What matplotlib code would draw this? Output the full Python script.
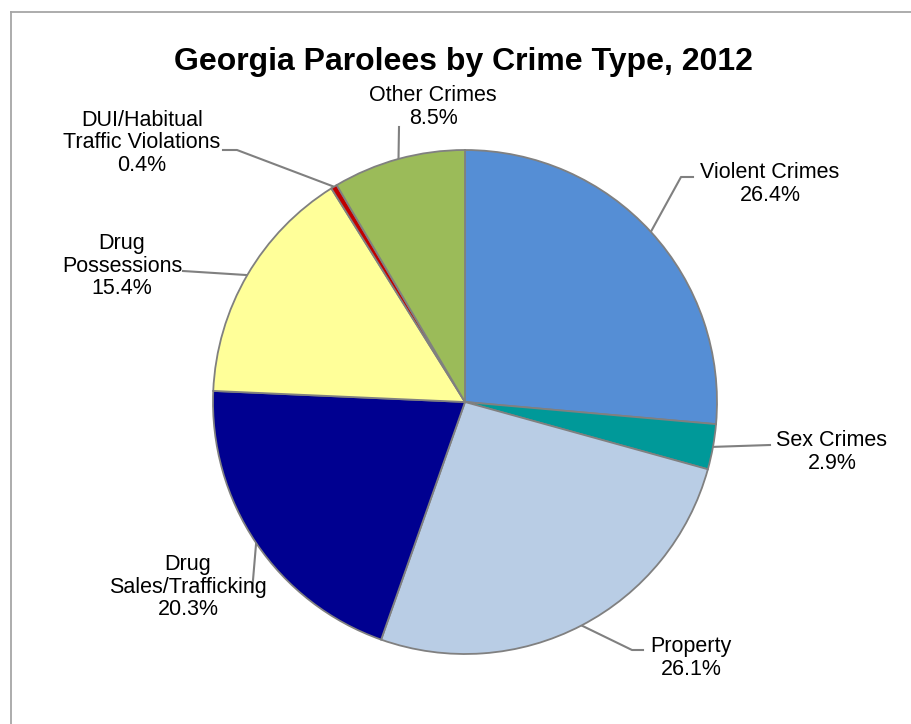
import numpy as np
import matplotlib.pyplot as plt
from matplotlib.lines import Line2D

plt.rcParams['font.family'] = ['Liberation Sans', 'DejaVu Sans']

# data
crimes = ['Violent Crimes', 'Sex Crimes', 'Property', 'Drug\nSales/Trafficking',
          'Drug\nPossessions', 'DUI/Habitual\nTraffic Violations', 'Other Crimes']
shares = [26.4, 2.9, 26.1, 20.3, 15.4, 0.4, 8.5]
colors = ['#558ED5', '#009999', '#B9CDE5', '#000090', '#FFFF99', '#C00000', '#9BBB59']

W, H = 911, 724
fig = plt.figure(figsize=(W / 100, H / 100), dpi=100)
ax = fig.add_axes([0, 0, 1, 1])
ax.set_aspect('equal')

def py(y):
    # pixel row -> data y
    return H - y

cx, cy, r = 465, 402, 252
wedges, _ = ax.pie(shares, colors=colors, startangle=90, counterclock=False,
                   center=(cx, py(cy)), radius=r, frame=True,
                   wedgeprops=dict(edgecolor='#808080', linewidth=1.3))
ax.set_xlim(0, W)
ax.set_ylim(0, H)
ax.axis('off')

# label block centres and leader elbows (pixel coords)
label_pos = [(770, 184), (832, 452), (691, 658), (188, 587), (122, 266), (142, 143), (433, 107)]
leader_start = [(693, 177), (770, 445), (643, 650), (252, 592), (183, 271), (223, 150), (399, 127)]
leader_elbow = [(681, 177), None, (632, 650), None, None, (237, 150), None]

for w, name, val, (lx, ly), st, el in zip(wedges, crimes, shares, label_pos, leader_start, leader_elbow):
    mid = np.deg2rad((w.theta1 + w.theta2) / 2)
    ex, ey = cx + r * np.cos(mid), py(cy) + r * np.sin(mid)
    pts = [st] + ([el] if el else [])
    xs = [p[0] for p in pts] + [ex]
    ys = [py(p[1]) for p in pts] + [ey]
    ax.plot(xs, ys, color='#808080', lw=1.5, zorder=0.5)
    ax.text(lx, py(ly), f'{name}\n{val}%', ha='center', va='center',
            fontsize=15.5, linespacing=1.12, color='black')

ax.text(463, py(62), 'Georgia Parolees by Crime Type, 2012', ha='center', va='center',
        fontsize=23, fontweight='bold')

# chart-area border (top and left edges visible)
fig.add_artist(Line2D([11 / W, 1], [1 - 12 / H, 1 - 12 / H], color='#A6A6A6', lw=1.3))
fig.add_artist(Line2D([11 / W, 11 / W], [0, 1 - 12 / H], color='#A6A6A6', lw=1.3))

fig.savefig('out.png', dpi=100)
